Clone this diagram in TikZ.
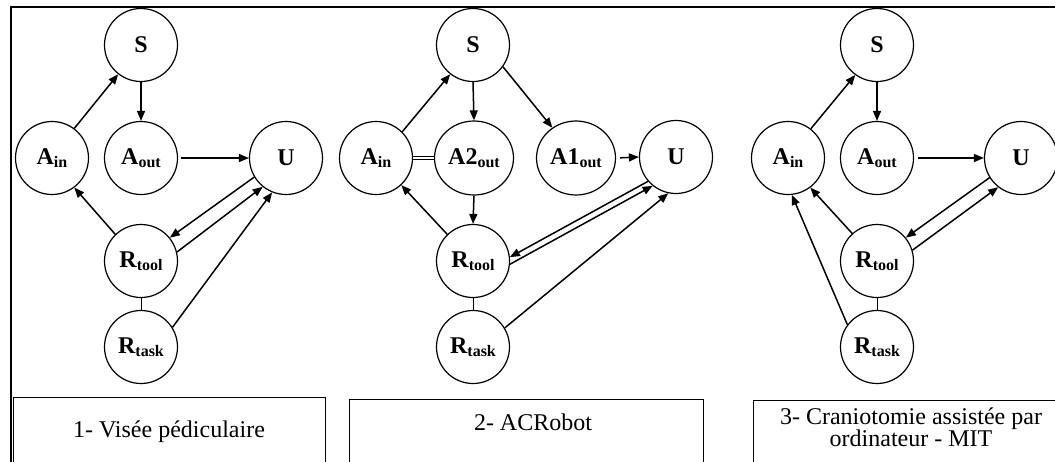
\documentclass[tikz,border=0pt]{standalone}
\usepackage{fontspec}
\setmainfont{Liberation Serif}
\usetikzlibrary{arrows.meta,shapes.geometric}
\newcommand{\mysub}[1]{\raisebox{-3pt}{\fontsize{16}{16}\selectfont #1}}
\newcommand{\nodefnt}{\fontsize{24}{24}\selectfont\bfseries}
\newcommand{\capfnt}{\fontsize{24}{22}\selectfont}
\tikzset{
  st/.style={circle, draw, line width=1.2pt, minimum size=73pt, inner sep=0pt, font=\nodefnt},
  el/.style={ellipse, draw, line width=1.2pt, minimum width=79pt, minimum height=74pt, inner sep=0pt, font=\nodefnt},
  arr/.style={-{Triangle[length=10pt,width=8pt]}, line width=1.5pt},
  ln/.style={line width=1pt},
  frame/.style={line width=1.2pt},
  capbox/.style={draw, line width=1pt},
  captext/.style={inner sep=0pt, font=\capfnt}
}
\begin{document}
\begin{tikzpicture}[x=1pt,y=-1pt]
\clip (0,0) rectangle (1055,461);
\fill[white] (0,0) rectangle (1055,461);
% outer frame
\coordinate (fTL) at (11,7);
\coordinate (fTR) at (1056,7);
\coordinate (fBL) at (11,462);
\draw[frame] (fTR) -- (fTL) -- (fBL);

% ---------------- panel 1
\node[st] (S1)  at (141,45)  {S};
\node[st] (Ai1) at (52,158)  {A\mysub{in}};
\node[st] (Ao1) at (141,158) {A\mysub{out}};
\node[st] (U1)  at (286,158) {U};
\node[st] (Rt1) at (141,261) {R\mysub{tool}};
\node[st] (Rk1) at (141,347) {R\mysub{task}};
\draw[arr] (Ai1.53) -- (S1.232);
\draw[arr] (S1.south) -- (Ao1.north);
\draw[arr] ([xshift=3pt]Ao1.east) -- (U1.west);
\draw[arr] (Rt1.134) -- (Ai1.307);
\draw[arr] (U1.211) -- (Rt1.39);
\draw[arr] (Rt1.14) -- (U1.231);
\draw[arr] (Rk1.32) -- (U1.248);
\draw[ln] (Rt1.south) -- (Rk1.north);
\draw[capbox] (13.5,397.5) rectangle (325,480);
\node[captext, anchor=base] (C1) at (169,437) {1- Visée pédiculaire};

% ---------------- panel 2
\node[st] (S2)  at (473,45)  {S};
\node[st] (Ai2) at (376,158) {A\mysub{in}};
\node[el] (A2o) at (474,158) {A2\mysub{out}};
\node[el] (A1o) at (576,158) {A1\mysub{out}};
\node[st] (U2)  at (676,157) {U};
\node[st] (Rt2) at (473,261) {R\mysub{tool}};
\node[st] (Rk2) at (473,347) {R\mysub{task}};
\draw[arr] (Ai2.45) -- (S2.232);
\draw[arr] (S2.south) -- (A2o.north);
\draw[arr] (S2.324) -- (A1o.128);
\draw[double, double distance=2.5pt, line width=0.9pt] (Ai2.east) -- (A2o.west);
\draw[arr, shorten <=4pt] (A1o.east) -- (U2.west);
\draw[arr] (A2o.south) -- (Rt2.north);
\draw[arr] (Rt2.134) -- (Ai2.313);
\draw[arr] (U2.221) -- (Rt2.6);
\draw[arr] (Rt2.355) -- (U2.231);
\draw[arr] (Rk2.31) -- (U2.258);
\draw[ln] (Rt2.south) -- (Rk2.north);
\draw[capbox] (349.5,399) rectangle (703.5,480);
\node[captext, anchor=base] (C2) at (533,430) {2- ACRobot};

% ---------------- panel 3
\node[st] (S3)  at (877,45)  {S};
\node[st] (Ai3) at (788,158) {A\mysub{in}};
\node[st] (Ao3) at (877,158) {A\mysub{out}};
\node[st] (U3)  at (1021,158) {U};
\node[st] (Rt3) at (877,261) {R\mysub{tool}};
\node[st] (Rk3) at (877,347) {R\mysub{task}};
\draw[arr] (Ai3.52) -- (S3.234);
\draw[arr] (S3.south) -- (Ao3.north);
\draw[arr] ([xshift=4pt]Ao3.east) -- (U3.west);
\draw[arr] (Rt3.132) -- (Ai3.307);
\draw[arr] (U3.212) -- (Rt3.39);
\draw[arr] (Rt3.17) -- (U3.232);
\draw[arr] (Rk3.143) -- (Ai3.276);
\draw[ln] (Rt3.south) -- (Rk3.north);
\draw[capbox] (753.5,400.5) rectangle (1100,480);
\node[captext, anchor=north, align=center] (C3) at (911,408) {3- Craniotomie assistée par\\ordinateur - MIT};
\end{tikzpicture}
\end{document}
